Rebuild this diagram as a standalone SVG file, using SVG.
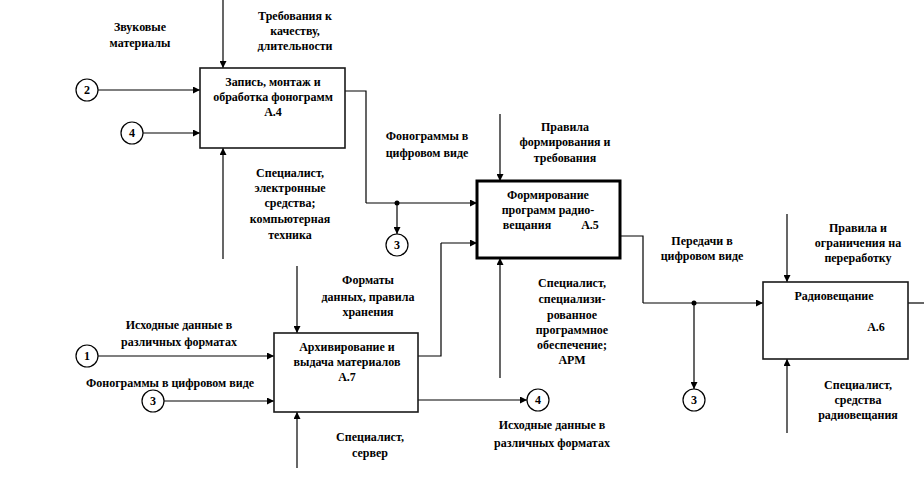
<svg xmlns="http://www.w3.org/2000/svg" width="924" height="481" viewBox="0 0 924 481">
<defs>
<marker id="ah" viewBox="0 0 10 10" refX="10" refY="5" markerWidth="9" markerHeight="7" markerUnits="userSpaceOnUse" orient="auto">
<path d="M0,0 L10,5 L0,10 z" fill="#000"/>
</marker>
<style>
text{font-family:"Liberation Serif","Times New Roman",serif;font-weight:bold;font-size:12px;fill:#000;text-anchor:middle}
.box{fill:#fff;stroke:#1a1a1a;stroke-width:1.6}
.box5{fill:#fff;stroke:#000;stroke-width:3}
.ln{fill:none;stroke:#000;stroke-width:1.2}
.ar{fill:none;stroke:#000;stroke-width:1.2;marker-end:url(#ah)}
.cir{fill:#fff;stroke:#000;stroke-width:1.2}
.dot{fill:#000}
</style>
</defs>
<rect width="924" height="481" fill="#fff"/>

<g id="connectors">
<!-- A4 -->
<path class="ar" d="M223,0 V68"/>
<path class="ar" d="M98,90 H200"/>
<path class="ar" d="M143,133 H200"/>
<path class="ar" d="M223,259 V148"/>
<path class="ln" d="M345,91 H366 V203"/>
<path class="ar" d="M366,203 H477"/>
<circle class="dot" cx="397" cy="203" r="2.5"/>
<path class="ar" d="M397,203 V234"/>
<!-- A5 -->
<path class="ar" d="M500,114 V181"/>
<path class="ar" d="M500,378 V258"/>
<path class="ln" d="M418,356 H441 V243"/>
<path class="ar" d="M441,243 H477"/>
<path class="ln" d="M620,236 H643 V303"/>
<path class="ar" d="M643,303 H763"/>
<circle class="dot" cx="694" cy="303" r="2.5"/>
<path class="ar" d="M694,303 V389"/>
<!-- A6 -->
<path class="ar" d="M787,214 V282"/>
<path class="ar" d="M787,433 V359"/>
<path class="ln" d="M908,303 H924"/>
<!-- A7 -->
<path class="ar" d="M297,266 V333"/>
<path class="ar" d="M297,468 V412"/>
<path class="ar" d="M98,356 H274"/>
<path class="ar" d="M164,401 H274"/>
<path class="ar" d="M418,400 H527"/>
</g>

<g id="A4">
<rect class="box" x="200" y="68" width="145" height="80"/>
<text x="273" y="86">Запись, монтаж и</text>
<text x="273" y="101">обработка фонограмм</text>
<text x="273" y="116">А.4</text>
</g>

<g id="A5">
<rect class="box5" x="477" y="181" width="143" height="77"/>
<text x="548" y="199">Формирование</text>
<text x="548" y="214">программ радио-</text>
<text x="527" y="229">вещания</text>
<text x="590" y="229">А.5</text>
</g>

<g id="A6">
<rect class="box" x="763" y="282" width="145" height="77"/>
<text x="834" y="300">Радиовещание</text>
<text x="876" y="331">А.6</text>
</g>

<g id="A7">
<rect class="box" x="274" y="333" width="144" height="79"/>
<text x="347" y="351">Архивирование и</text>
<text x="347" y="366">выдача материалов</text>
<text x="347" y="381">А.7</text>
</g>

<g id="c2"><circle class="cir" cx="87" cy="90" r="11"/><text x="87" y="94">2</text></g>
<g id="c4a"><circle class="cir" cx="132" cy="133" r="11"/><text x="132" y="137">4</text></g>
<g id="c3a"><circle class="cir" cx="397" cy="245" r="11"/><text x="397" y="249">3</text></g>
<g id="c3b"><circle class="cir" cx="694" cy="400" r="11"/><text x="694" y="404">3</text></g>
<g id="c1"><circle class="cir" cx="87" cy="356" r="11"/><text x="87" y="360">1</text></g>
<g id="c3c"><circle class="cir" cx="153" cy="401" r="11"/><text x="153" y="405">3</text></g>
<g id="c4b"><circle class="cir" cx="538" cy="400" r="11"/><text x="538" y="404">4</text></g>

<g id="labels">
<text x="140" y="31">Звуковые</text>
<text x="140" y="47">материалы</text>
<text x="295" y="20">Требования к</text>
<text x="295" y="35">качеству,</text>
<text x="295" y="50">длительности</text>
<text x="290" y="177">Специалист,</text>
<text x="290" y="192">электронные</text>
<text x="290" y="207">средства;</text>
<text x="290" y="223">компьютерная</text>
<text x="290" y="239">техника</text>
<text x="427" y="140">Фонограммы в</text>
<text x="427" y="157">цифровом виде</text>
<text x="565" y="131">Правила</text>
<text x="565" y="146">формирования и</text>
<text x="565" y="162">требования</text>
<text x="702" y="245">Передачи в</text>
<text x="702" y="260">цифровом виде</text>
<text x="858" y="232">Правила и</text>
<text x="858" y="247">ограничения на</text>
<text x="858" y="262">переработку</text>
<text x="858" y="389">Специалист,</text>
<text x="858" y="404">средства</text>
<text x="858" y="419">радиовещания</text>
<text x="368" y="284">Форматы</text>
<text x="368" y="301">данных, правила</text>
<text x="368" y="316">хранения</text>
<text x="179" y="329">Исходные данные в</text>
<text x="179" y="346">различных форматах</text>
<text x="170" y="387">Фонограммы в цифровом виде</text>
<text x="370" y="441">Специалист,</text>
<text x="370" y="457">сервер</text>
<text x="572" y="287">Специалист,</text>
<text x="572" y="303">специализи-</text>
<text x="572" y="319">рованное</text>
<text x="572" y="334">программное</text>
<text x="572" y="349">обеспечение;</text>
<text x="572" y="364">АРМ</text>
<text x="552" y="429">Исходные данные в</text>
<text x="552" y="447">различных форматах</text>
</g>
</svg>
